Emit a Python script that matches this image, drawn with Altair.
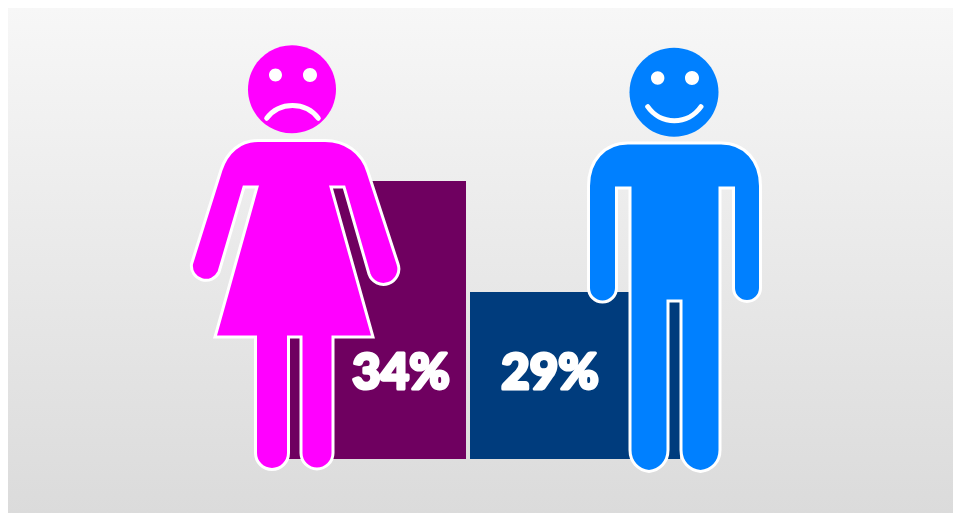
import altair as alt
import pandas as pd

# Values
groups = ["Women", "Men"]
shares = [34, 29]
baseline = [21.48, 21.48]
labels = ["34%", "29%"]
bar_colors = ["#6F0060", "#003C7D"]
label_shift = [40, -25]

# Pictogram outlines, in picture pixels
WOMAN_BODY = ("M258 140.5 L325 140.5 C345 140.5 362 152 368 172 L398 264 A15.3 15.3 0 0 1 369 274 "
              "L344 187 L331 187 L373 337 L333 337 L333 453 A16 16 0 0 1 301 453 L301 337 "
              "L288.5 337 L288.5 453 A16.5 16.5 0 0 1 255.5 453 L255.5 337 L215 337 L257 187 "
              "L244 187 L219 272 A14.5 14.5 0 0 1 191.5 264 L221 170 C227 152 240 140.5 258 140.5 Z")
MAN_BODY = ("M628 143 L721 143 C745 143 760.5 161 760.5 186 L760.5 288 A13.5 13.5 0 0 1 733.5 288 "
            "L733.5 188 L720 188 L720 450 C720 462 712 470 700.5 471.5 C689 470 681 462 681 450 "
            "L681 301 L668 301 L668 450 C668 462 660 470 649 471.5 C638 470 630 462 630 450 "
            "L630 188 L616.5 188 L616.5 288 A14 14 0 0 1 588.5 288 L588.5 186 C588.5 161 604 143 628 143 Z")
WOMAN_HEAD = "M248 89.3 A44 44 0 1 1 336 89.3 A44 44 0 1 1 248 89.3 Z"
MAN_HEAD = "M629.5 92.3 A44.5 44.5 0 1 1 718.5 92.3 A44.5 44.5 0 1 1 629.5 92.3 Z"
WOMAN_EYES = ("M269 75 A6.5 6.5 0 1 1 282 75 A6.5 6.5 0 1 1 269 75 Z "
              "M303 75 A7 7 0 1 1 317 75 A7 7 0 1 1 303 75 Z")
MAN_EYES = ("M651 78 A6.7 6.7 0 1 1 664.4 78 A6.7 6.7 0 1 1 651 78 Z "
            "M685 78 A7 7 0 1 1 699 78 A7 7 0 1 1 685 78 Z")
FROWN = "M266.7 118.3 A32.5 32.5 0 0 1 318.3 118.3"
SMILE = "M647.7 106.7 A32.4 32.4 0 0 0 701 106.7"

W, H = 945, 505
OX, OY = -8, -8
pic = pd.DataFrame({"a": [1]})

backdrop = alt.Chart(pic).mark_rect(
    color=alt.Gradient(
        gradient="linear", x1=0, x2=0, y1=0, y2=1,
        stops=[alt.GradientStop(offset=0, color="#F7F7F7"),
               alt.GradientStop(offset=1, color="#DBDBDB")],
    )
).encode(x=alt.value(0), x2=alt.value(W), y=alt.value(0), y2=alt.value(H))

bars_df = pd.DataFrame({"group": groups, "share": shares, "base": baseline, "label": labels,
                        "color": bar_colors, "shift": label_shift})

x_scale = alt.Scale(domain=groups, range=[248, 672], paddingInner=0.0187, paddingOuter=0)
y_scale = alt.Scale(domain=[21.48, 34], range=[451, 173], zero=False, nice=False)

bars = alt.Chart(bars_df).mark_bar().encode(
    x=alt.X("group:N", scale=x_scale, axis=None, sort=groups),
    y=alt.Y("share:Q", scale=y_scale, axis=None),
    y2="base:Q",
    color=alt.Color("color:N", scale=None, legend=None),
)


def bar_label(i):
    return alt.Chart(bars_df.iloc[[i]]).mark_text(
        font="Lato", fontWeight=900, fontSize=49, color="white",
        stroke="white", strokeWidth=3.2, strokeJoin="round",
        align="center", baseline="middle", dx=label_shift[i],
    ).encode(
        x=alt.X("group:N", scale=x_scale, axis=None, sort=groups),
        y=alt.value(366),
        text="label:N",
    )


def shape_layer(path, fill=None, stroke=None, stroke_width=0, cap=None):
    kw = {"shape": path, "size": 4, "opacity": 1}
    if fill:
        kw.update(filled=True, fill=fill)
    else:
        kw.update(filled=False, fill="transparent")
    if stroke:
        kw.update(stroke=stroke, strokeWidth=stroke_width)
    if cap:
        kw.update(strokeCap=cap)
    return alt.Chart(pic).mark_point(**kw).encode(x=alt.value(OX), y=alt.value(OY))


figures = [
    shape_layer(WOMAN_BODY, "#FF00FF", "white", 3),
    shape_layer(WOMAN_HEAD, "#FF00FF"),
    shape_layer(WOMAN_EYES, "white"),
    shape_layer(FROWN, None, "white", 5, "round"),
    shape_layer(MAN_BODY, "#0080FF", "white", 3),
    shape_layer(MAN_HEAD, "#0080FF"),
    shape_layer(MAN_EYES, "white"),
    shape_layer(SMILE, None, "white", 5, "round"),
]

chart = alt.layer(backdrop, bars, bar_label(0), bar_label(1), *figures).properties(
    width=W, height=H, padding=0,
    autosize=alt.AutoSizeParams(type="none"),
    background="#F7F7F7",
).configure_view(stroke=None)

chart.save("out.html", embed_options={"renderer": "svg", "actions": False})
